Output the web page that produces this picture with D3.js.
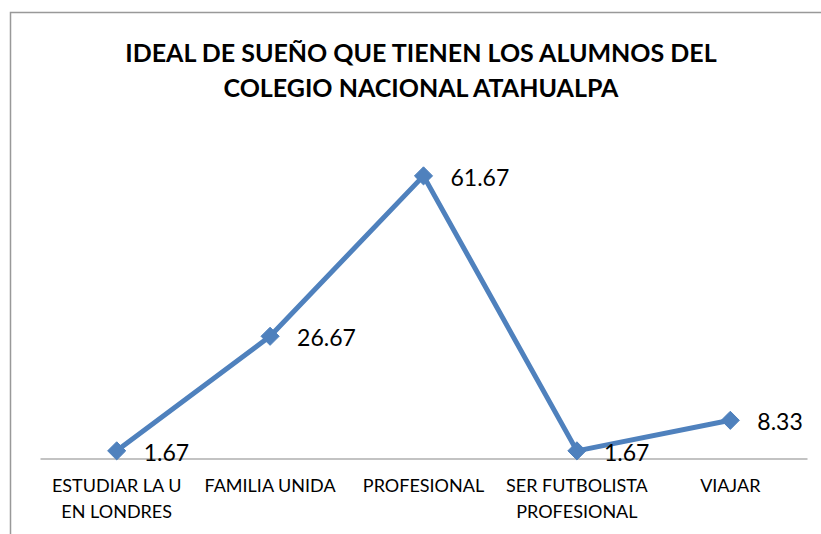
<!DOCTYPE html>
<html>
<head>
<meta charset="utf-8">
<script src="https://cdn.jsdelivr.net/npm/d3@7.9.0/dist/d3.min.js"></script>
<style>
  html, body { margin: 0; padding: 0; background: #fff; }
  svg { display: block; font-family: Lato, "Noto Sans", sans-serif; }
</style>
</head>
<body>
<div id="chart"></div>
<script>
const titleLines = ["IDEAL DE SUEÑO QUE TIENEN LOS ALUMNOS DEL", "COLEGIO NACIONAL ATAHUALPA"];
const categories = ["ESTUDIAR LA U EN LONDRES", "FAMILIA UNIDA", "PROFESIONAL", "SER FUTBOLISTA PROFESIONAL", "VIAJAR"];
const categoryLines = [["ESTUDIAR LA U", "EN LONDRES"], ["FAMILIA UNIDA"], ["PROFESIONAL"], ["SER FUTBOLISTA", "PROFESIONAL"], ["VIAJAR"]];
const values = [1.67, 26.67, 61.67, 1.67, 8.33];

const W = 821, H = 534;
const svg = d3.select("#chart").append("svg")
  .attr("width", W)
  .attr("height", H);

// chart frame (runs off the right and bottom edges)
svg.append("rect")
  .attr("x", 10.5)
  .attr("y", 12.5)
  .attr("width", 830)
  .attr("height", 600)
  .attr("fill", "none")
  .attr("stroke", "#999")
  .attr("stroke-width", 1.5);

// title
svg.append("g")
  .selectAll("text")
  .data(titleLines)
  .join("text")
    .attr("x", 421)
    .attr("y", (d, i) => 62 + i * 35)
    .attr("text-anchor", "middle")
    .attr("font-size", 25)
    .attr("font-weight", 700)
    .attr("fill", "#000")
    .text(d => d);

// scales
const x = d3.scaleBand()
  .domain(categories)
  .range([40, 807]);

const y = d3.scaleLinear()
  .domain([0, 70])
  .range([458.5, 137.7]);

const cx = d => x(d) + x.bandwidth() / 2;

// axis line
const xAxisG = svg.append("g")
  .attr("transform", `translate(0, ${y(0)})`)
  .call(d3.axisBottom(x).tickSize(0).tickFormat(""));
xAxisG.select(".domain").attr("stroke", "#888").attr("stroke-width", 1.2);

// category labels
const catG = svg.append("g");
categories.forEach((c, i) => {
  const t = catG.append("text")
    .attr("x", cx(c))
    .attr("y", 492)
    .attr("text-anchor", "middle")
    .attr("font-size", 18)
    .attr("fill", "#000");
  categoryLines[i].forEach((ln, j) => {
    t.append("tspan")
      .attr("x", cx(c))
      .attr("dy", j === 0 ? 0 : 26)
      .text(ln);
  });
});

// line
const pts = categories.map((c, i) => ({ c, v: values[i] }));
const line = d3.line()
  .x(d => cx(d.c))
  .y(d => y(d.v));

svg.append("path")
  .datum(pts)
  .attr("d", line)
  .attr("fill", "none")
  .attr("stroke", "#4F81BD")
  .attr("stroke-width", 5)
  .attr("stroke-linejoin", "round");

// diamond markers
svg.append("g")
  .selectAll("path")
  .data(pts)
  .join("path")
    .attr("transform", d => `translate(${cx(d.c)}, ${y(d.v)})`)
    .attr("d", d3.symbol(d3.symbolDiamond2, 210)())
    .attr("fill", "#4F81BD")
    .attr("stroke", "#4F81BD")
    .attr("stroke-width", 1);

// data labels
svg.append("g")
  .selectAll("text")
  .data(pts)
  .join("text")
    .attr("x", d => cx(d.c) + 27)
    .attr("y", d => y(d.v) + 10)
    .attr("font-size", 23)
    .attr("fill", "#000")
    .text(d => d.v.toFixed(2));
</script>
</body>
</html>
